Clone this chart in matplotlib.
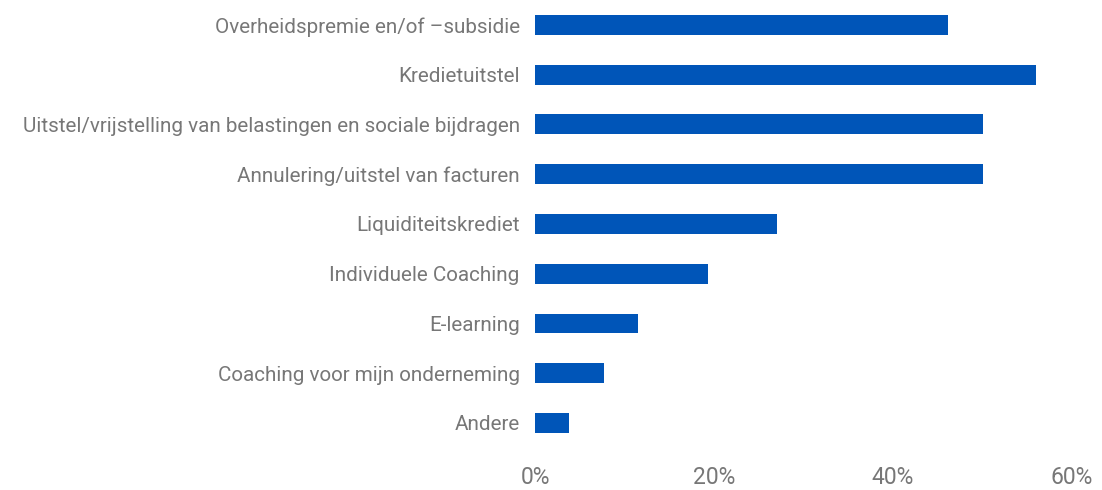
import matplotlib

matplotlib.use("Agg")
import matplotlib.pyplot as plt
from matplotlib.ticker import FuncFormatter

categories = [
    "Overheidspremie en/of \u2013subsidie",
    "Kredietuitstel",
    "Uitstel/vrijstelling van belastingen en sociale bijdragen",
    "Annulering/uitstel van facturen",
    "Liquiditeitskrediet",
    "Individuele Coaching",
    "E-learning",
    "Coaching voor mijn onderneming",
    "Andere",
]
values = [46.1, 56.0, 50.0, 50.0, 27.0, 19.3, 11.5, 7.7, 3.8]
xticks = [0, 20, 40, 60]

plt.rcParams["font.family"] = ["Roboto", "DejaVu Sans"]

fig = plt.figure(figsize=(11.02, 4.9), dpi=100)
ax = fig.add_axes([0.4855, 0.086, 0.4873, 0.914])

ax.barh(range(len(categories)), values, height=0.4, color="#0055B8")
ax.set_yticks(range(len(categories)))
ax.set_yticklabels(categories, fontsize=14.9, color="#777777")
ax.set_ylim(len(categories) - 0.5, -0.5)
ax.set_xlim(0, 60)
ax.set_xticks(xticks)
ax.xaxis.set_major_formatter(FuncFormatter(lambda v, p: f"{v:.0f}%"))
ax.tick_params(axis="x", labelsize=16.5, labelcolor="#777777", length=0, pad=13)
ax.tick_params(axis="y", length=0, pad=11)
for s in ax.spines.values():
    s.set_visible(False)

fig.savefig("out.png", dpi=100)
plt.close(fig)
